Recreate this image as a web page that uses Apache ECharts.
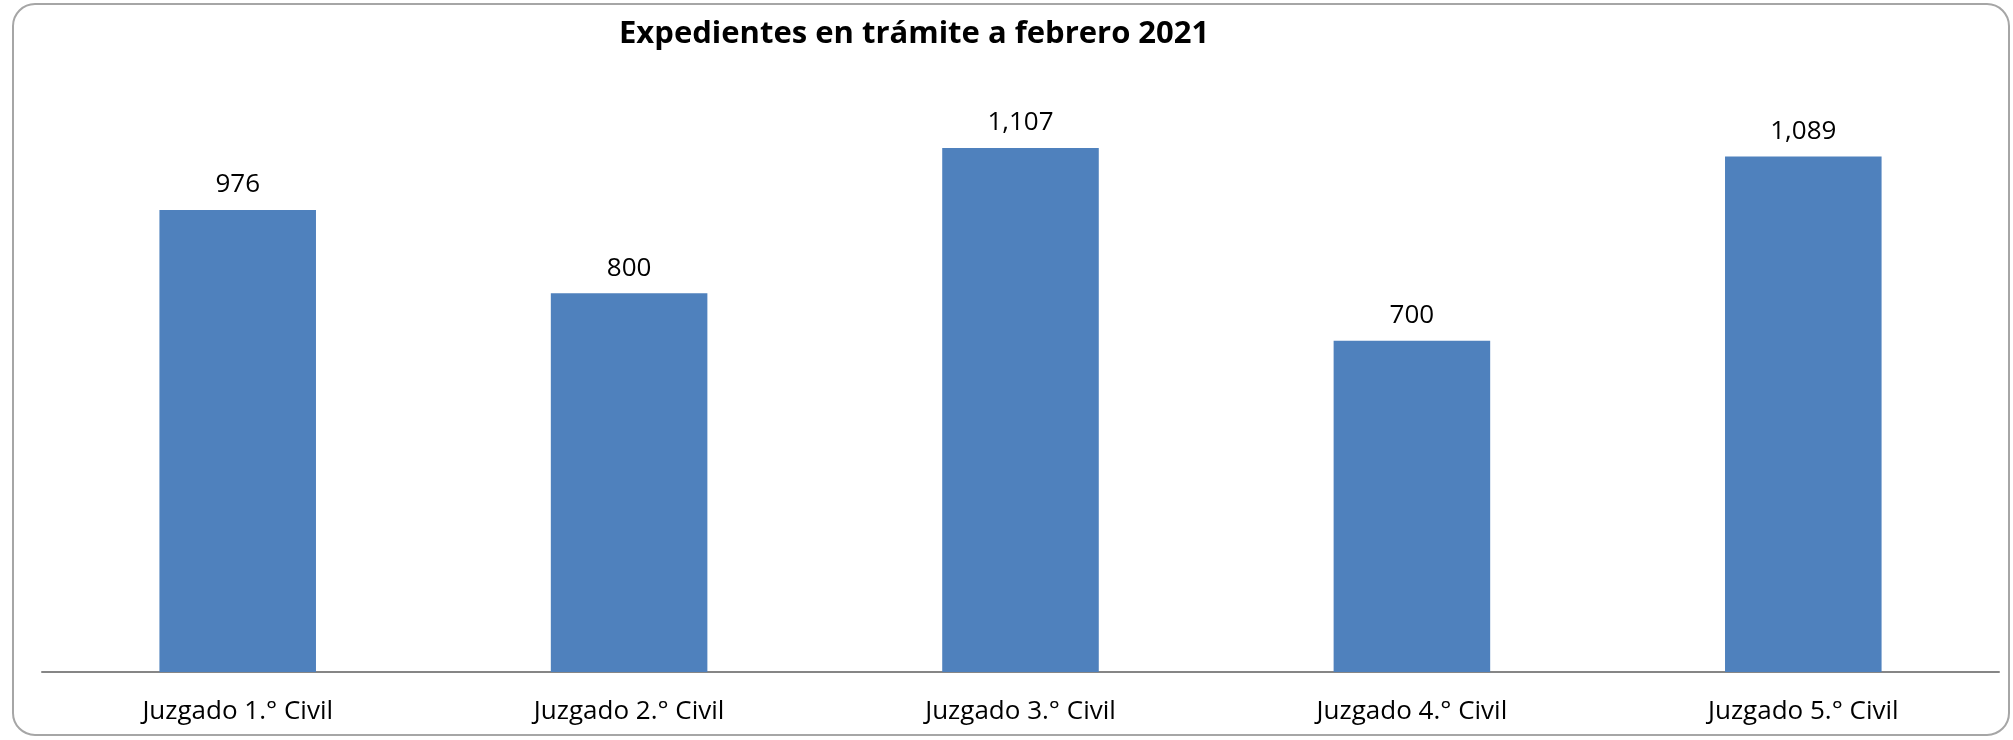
<!DOCTYPE html>
<html>
<head>
<meta charset="utf-8">
<script src="https://cdn.jsdelivr.net/npm/echarts@6/dist/echarts.min.js"></script>
<style>
  html, body { margin: 0; padding: 0; background: #fff; }
  #chart { width: 2013px; height: 740px; }
</style>
</head>
<body>
<div id="chart"></div>
<script>
const categories = ['Juzgado 1.° Civil', 'Juzgado 2.° Civil', 'Juzgado 3.° Civil', 'Juzgado 4.° Civil', 'Juzgado 5.° Civil'];
const expedientes = [976, 800, 1107, 700, 1089];

const chart = echarts.init(document.getElementById('chart'));
const font = '"Open Sans", sans-serif';

const option = {
  animation: false,
  title: {
    text: 'Expedientes en trámite a febrero 2021',
    left: 614,
    top: 14,
    textStyle: { fontFamily: font, fontSize: 31, fontWeight: 'bold', color: '#000' }
  },
  graphic: [{
    type: 'rect',
    shape: { x: 13, y: 4, width: 1996, height: 731, r: 22 },
    style: { fill: 'none', stroke: '#a6a6a6', lineWidth: 2 },
    silent: true
  }],
  grid: { left: 42, right: 14, top: 104, bottom: 68 },
  xAxis: {
    type: 'category',
    data: categories,
    axisLine: { lineStyle: { color: '#868686', width: 2 } },
    axisTick: { show: false },
    axisLabel: { fontFamily: font, fontSize: 26, color: '#000', margin: 27 }
  },
  yAxis: {
    type: 'value',
    min: 0,
    max: 1200,
    show: false,
    splitLine: { show: false }
  },
  series: [{
    type: 'bar',
    data: expedientes,
    barWidth: '40%',
    itemStyle: { color: '#4f81bd' },
    label: {
      show: true,
      position: 'top',
      distance: 12,
      fontFamily: font,
      fontSize: 26,
      color: '#000',
      formatter: (p) => p.value.toLocaleString('en-US')
    }
  }]
};

chart.setOption(option);
</script>
</body>
</html>
